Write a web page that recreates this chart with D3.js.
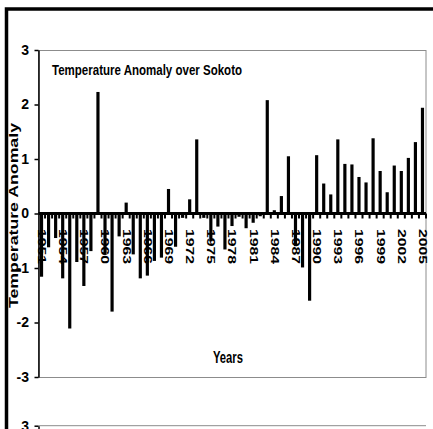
<!DOCTYPE html>
<meta charset="utf-8">
<style>
    body { margin: 0; background: #fff; }
    svg { display: block; }
    text { font-family: "Liberation Sans", Arial, sans-serif; font-weight: bold; fill: #000; }
</style>

<svg id="chart" width="433" height="429"></svg>

<script src="https://d3js.org/d3.v7.min.js"></script>
<script>

    const years = [1951, 1952, 1953, 1954, 1955, 1956, 1957, 1958, 1959, 1960,
                   1961, 1962, 1963, 1964, 1965, 1966, 1967, 1968, 1969, 1970,
                   1971, 1972, 1973, 1974, 1975, 1976, 1977, 1978, 1979, 1980,
                   1981, 1982, 1983, 1984, 1985, 1986, 1987, 1988, 1989, 1990,
                   1991, 1992, 1993, 1994, 1995, 1996, 1997, 1998, 1999, 2000,
                   2001, 2002, 2003, 2004, 2005];

    const anomaly = [-1.16, -0.62, -0.45, -1.19, -2.11, -0.89, -1.33, -0.69, 2.23, -0.76,
                     -1.80, -0.42, 0.20, -0.75, -1.19, -1.14, -0.87, -0.81, 0.45, -0.61,
                     -0.08, 0.26, 1.36, -0.08, -0.51, -0.24, -0.66, -0.23, -0.06, -0.27,
                     -0.17, -0.05, 2.08, 0.06, 0.32, 1.05, -0.60, -0.99, -1.60, 1.07,
                     0.55, 0.35, 1.36, 0.91, 0.90, 0.67, 0.57, 1.38, 0.78, 0.39,
                     0.88, 0.78, 1.02, 1.31, 1.94];

    const yearLabels = [1951, 1954, 1957, 1960, 1963, 1966, 1969, 1972, 1975,
                        1978, 1981, 1984, 1987, 1990, 1993, 1996, 1999, 2002, 2005];

    const yTicks = [3, 2, 1, 0, -1, -2, -3];

    const chartTitle = "Temperature Anomaly over Sokoto";
    const yTitle = "Temperature Anomaly";
    const xTitle = "Years";

    const svg = d3.select("#chart");

    const plotLeft = 38.5, plotRight = 426, plotTop = 50, plotBottom = 377;

    const x = d3.scaleBand()
                .domain(years)
                .range([38, plotRight])
                .paddingInner(0.55)
                .paddingOuter(0.275);

    const y = d3.scaleLinear()
                .domain([-3, 3])
                .range([plotBottom, plotTop]);

    // outer frame (only top and left edges are visible)
    svg.append("path")
       .attr("d", "M6.5,429V9H433")
       .attr("fill", "none")
       .attr("stroke", "#000")
       .attr("stroke-width", 3.5);

    // plot area border
    svg.append("rect")
       .attr("x", plotLeft)
       .attr("y", plotTop + 0.5)
       .attr("width", plotRight - plotLeft)
       .attr("height", plotBottom - plotTop)
       .attr("fill", "none")
       .attr("stroke", "#8c8c8c")
       .attr("stroke-width", 1);

    // year labels, rotated
    svg.append("g")
       .selectAll("text")
       .data(yearLabels)
       .join("text")
       .attr("transform", d => `translate(${x(d) + x.bandwidth() / 2},229) rotate(90)`)
       .attr("dy", "0.36em")
       .attr("font-size", 10)
       .attr("textLength", 35)
       .attr("lengthAdjust", "spacingAndGlyphs")
       .text(d => d);

    // bars
    svg.append("g")
       .selectAll("rect")
       .data(years)
       .join("rect")
       .attr("x", d => x(d))
       .attr("width", x.bandwidth())
       .attr("y", (d, i) => Math.min(y(anomaly[i]), y(0)))
       .attr("height", (d, i) => Math.abs(y(anomaly[i]) - y(0)))
       .attr("fill", "#000");

    // zero line with category tick marks
    svg.append("line")
       .attr("x1", plotLeft)
       .attr("x2", plotRight)
       .attr("y1", y(0))
       .attr("y2", y(0))
       .attr("stroke", "#000")
       .attr("stroke-width", 3);

    const gap = (x.step() - x.bandwidth()) / 2;
    svg.append("g")
       .selectAll("line")
       .data(years)
       .join("line")
       .attr("x1", d => x(d) + x.bandwidth() + gap)
       .attr("x2", d => x(d) + x.bandwidth() + gap)
       .attr("y1", y(0))
       .attr("y2", y(0) + 5)
       .attr("stroke", "#000")
       .attr("stroke-width", 2);

    // y axis
    const yAxis = svg.append("g")
       .attr("transform", `translate(${plotLeft},0)`)
       .call(d3.axisLeft(y)
               .tickValues(yTicks)
               .tickSize(4)
               .tickSizeOuter(0)
               .tickPadding(5.5)
               .tickFormat(d => String(d)));
    yAxis.select(".domain").attr("stroke-width", 1.5);
    yAxis.selectAll(".tick line").attr("stroke-width", 1.5);
    yAxis.selectAll("text")
         .attr("font-family", null)
         .attr("font-size", 14);

    // titles
    svg.append("text")
       .attr("x", 52)
       .attr("y", 75)
       .attr("font-size", 15)
       .attr("textLength", 190)
       .attr("lengthAdjust", "spacingAndGlyphs")
       .text(chartTitle);

    svg.append("text")
       .attr("transform", `translate(14,${y(0) + 2}) rotate(-90)`)
       .attr("text-anchor", "middle")
       .attr("dy", "0.35em")
       .attr("font-size", 12)
       .attr("textLength", 185)
       .attr("lengthAdjust", "spacingAndGlyphs")
       .text(yTitle);

    svg.append("text")
       .attr("x", 213)
       .attr("y", 363)
       .attr("font-size", 16)
       .attr("textLength", 30)
       .attr("lengthAdjust", "spacingAndGlyphs")
       .text(xTitle);

    // top of the next panel, cut off by the picture edge
    const y2 = d3.scaleLinear()
                 .domain([-3, 3])
                 .range([plotBottom + 375.7, plotTop + 375.7]);

    svg.append("line")
       .attr("x1", plotLeft)
       .attr("x2", plotRight)
       .attr("y1", y2(3))
       .attr("y2", y2(3))
       .attr("stroke", "#8c8c8c");

    const yAxis2 = svg.append("g")
       .attr("transform", `translate(${plotLeft},0)`)
       .call(d3.axisLeft(y2)
               .tickValues(yTicks.slice(0, 1))
               .tickSize(4)
               .tickSizeOuter(0)
               .tickPadding(5.5)
               .tickFormat(d => String(d)));
    yAxis2.select(".domain").attr("stroke-width", 1.5);
    yAxis2.selectAll(".tick line").attr("stroke-width", 1.5);
    yAxis2.selectAll("text")
          .attr("font-family", null)
          .attr("font-size", 14);

</script>
